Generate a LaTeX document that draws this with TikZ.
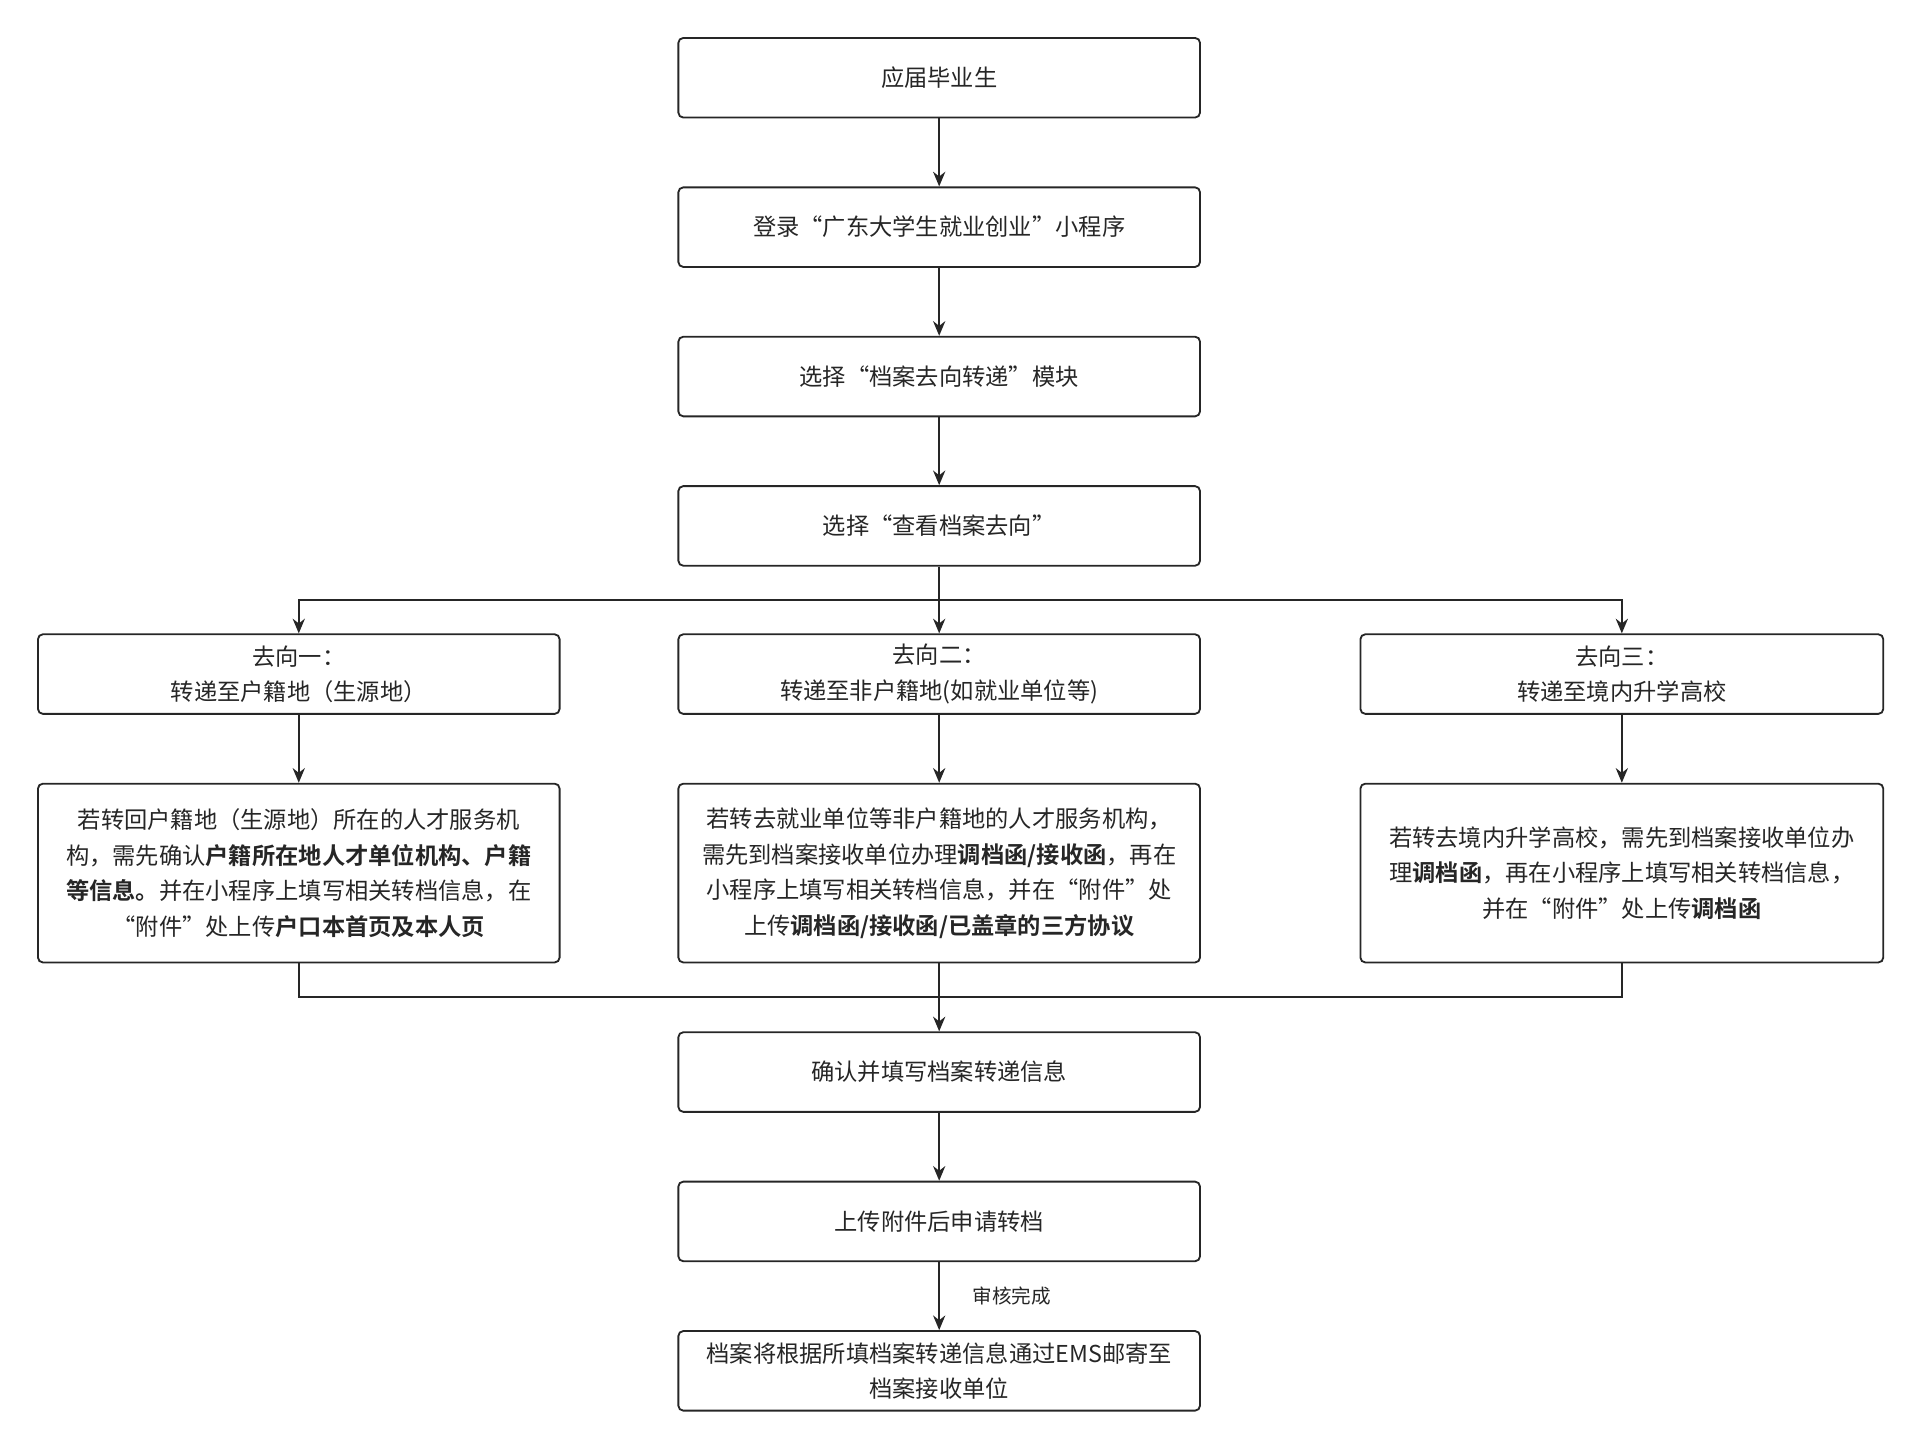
\documentclass[tikz,border=0pt]{standalone}
\usepackage{fontspec}
\setmainfont{Noto Sans CJK SC}[BoldFont={Noto Sans CJK SC Bold}]
\usetikzlibrary{arrows.meta}
\begin{document}
\begin{tikzpicture}[x=0.5pt,y=-0.5pt,
 box/.style={draw=black!85,line width=0.75pt,rounded corners=2pt,align=center,inner sep=0pt,font=\fontsize{9.5}{14.5}\selectfont,text=black!85},
 ar/.style={draw=black!85,line width=0.75pt,-{Stealth[length=6pt,width=5pt]}},
 ln/.style={draw=black!85,line width=0.75pt}]
\useasboundingbox (0,0) rectangle (1568,1183);
\newcommand{\bx}[6]{\node[box,minimum width={(#3-#2)*0.5pt},minimum height={(#5-#4)*0.5pt}] (#1) at ({(#2+#3)/2},{(#4+#5)/2}) {#6};}
\bx{a}{554}{980}{31}{96}{应届毕业生}
\bx{b}{554}{980}{153}{218}{登录“广东大学生就业创业”小程序}
\bx{c}{554}{980}{275}{340}{选择“档案去向转递”模块}
\bx{d}{554}{980}{397}{462}{选择“查看档案去向”}
\bx{l1}{31}{457}{518}{583}{去向一：\\转递至户籍地（生源地）}
\bx{m1}{554}{980}{518}{583}{去向二：\\转递至非户籍地(如就业单位等)}
\bx{r1}{1111}{1538}{518}{583}{去向三：\\转递至境内升学高校}
\bx{l2}{31}{457}{640}{786}{若转回户籍地（生源地）所在的人才服务机\\构，需先确认\textbf{户籍所在地人才单位机构、户籍}\\\textbf{等信息。}并在小程序上填写相关转档信息，在\\“附件”处上传\textbf{户口本首页及本人页}}
\bx{m2}{554}{980}{640}{786}{若转去就业单位等非户籍地的人才服务机构，\\需先到档案接收单位办理\textbf{调档函/接收函}，再在\\小程序上填写相关转档信息，并在“附件”处\\上传\textbf{调档函/接收函/已盖章的三方协议}}
\bx{r2}{1111}{1538}{640}{786}{若转去境内升学高校，需先到档案接收单位办\\理\textbf{调档函}，再在小程序上填写相关转档信息，\\并在“附件”处上传\textbf{调档函}}
\bx{e}{554}{980}{843}{908}{确认并填写档案转递信息}
\bx{f}{554}{980}{965}{1030}{上传附件后申请转档}
\bx{g}{554}{980}{1087}{1152}{档案将根据所填档案转递信息通过EMS邮寄至\\档案接收单位}
\draw[ar] (a) -- (b);
\draw[ar] (b) -- (c);
\draw[ar] (c) -- (d);
\coordinate (br) at (767,490);
\draw[ar] (d) -- (m1);
\draw[ar] (d.south) -- (br) -| (l1.north);
\draw[ar] (br) -| (r1.north);
\draw[ar] (l1) -- (l2);
\draw[ar] (m1) -- (m2);
\draw[ar] (r1) -- (r2);
\coordinate (mg) at (767,814);
\draw[ln] (l2.south) |- (mg) -| (r2.south);
\draw[ar] (m2) -- (e);
\draw[ar] (e) -- (f);
\draw[ar] (f) -- node[right=10pt,font=\fontsize{8}{10}\selectfont,text=black!85]{审核完成} (g);
\end{tikzpicture}
\end{document}
